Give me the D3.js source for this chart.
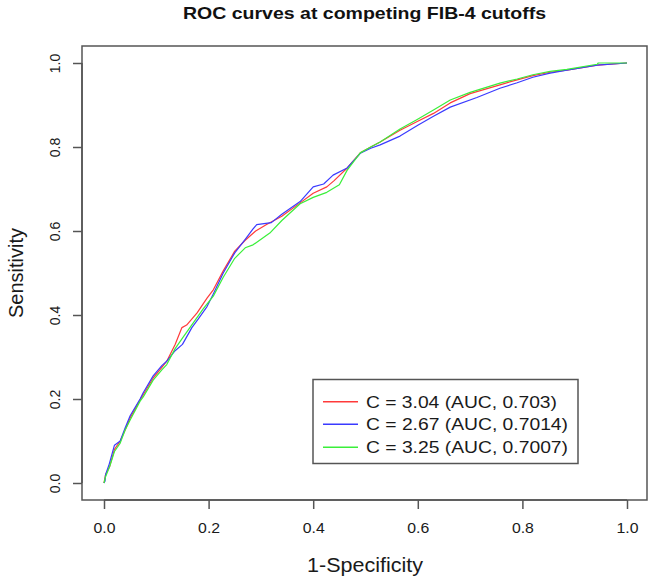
<!DOCTYPE html>
<html><head><meta charset="utf-8">
<script src="https://cdn.jsdelivr.net/npm/d3@7"></script>
<style>body{margin:0;background:#fff;} svg{display:block;font-family:"Liberation Sans",Arial,sans-serif;}</style>
</head><body>
<svg id="c" width="653" height="578"></svg>
<script>
const title = "ROC curves at competing FIB-4 cutoffs";
const xLabel = "1-Specificity";
const yLabel = "Sensitivity";
const ticks = [0, 0.2, 0.4, 0.6, 0.8, 1.0];
const seriesNames = ["C = 3.04 (AUC, 0.703)", "C = 2.67 (AUC, 0.7014)", "C = 3.25 (AUC, 0.7007)"];
const seriesColors = ["#ff3a3a", "#3a3aff", "#3aef3a"];

const redFpr = [0,0.003,0.011,0.02,0.031,0.04,0.05,0.069,0.075,0.094,0.111,0.12,0.136,0.149,0.158,0.178,0.197,0.209,0.228,0.25,0.27,0.29,0.31,0.34,0.375,0.40,0.426,0.44,0.465,0.49,0.51,0.528,0.566,0.598,0.63,0.662,0.70,0.757,0.79,0.82,0.853,0.885,0.943,1];
const redTpr = [0,0.02,0.04,0.08,0.1,0.125,0.155,0.198,0.21,0.25,0.276,0.29,0.33,0.37,0.376,0.405,0.44,0.46,0.505,0.552,0.578,0.6,0.615,0.635,0.667,0.69,0.705,0.72,0.75,0.786,0.8,0.812,0.84,0.86,0.88,0.905,0.927,0.948,0.96,0.97,0.978,0.983,0.995,1];

const blueFpr = [0,0.002,0.003,0.01,0.02,0.031,0.04,0.05,0.069,0.075,0.094,0.111,0.12,0.136,0.15,0.168,0.18,0.197,0.209,0.228,0.25,0.27,0.285,0.292,0.32,0.34,0.375,0.40,0.42,0.438,0.465,0.49,0.51,0.528,0.566,0.6,0.63,0.662,0.713,0.757,0.79,0.82,0.853,0.885,0.943,1];
const blueTpr = [0,0.005,0.02,0.045,0.09,0.1,0.13,0.16,0.2,0.215,0.255,0.28,0.29,0.315,0.33,0.37,0.39,0.42,0.45,0.5,0.548,0.58,0.605,0.615,0.62,0.64,0.67,0.705,0.712,0.733,0.75,0.785,0.797,0.805,0.826,0.852,0.873,0.895,0.918,0.94,0.953,0.966,0.976,0.983,0.995,1];

const greenFpr = [0,0.003,0.011,0.02,0.031,0.04,0.05,0.069,0.075,0.094,0.111,0.12,0.136,0.15,0.17,0.19,0.209,0.228,0.25,0.27,0.285,0.317,0.34,0.375,0.40,0.426,0.45,0.465,0.49,0.51,0.528,0.566,0.598,0.63,0.662,0.70,0.757,0.79,0.82,0.853,0.885,0.943,0.945,1];
const greenTpr = [0,0.015,0.04,0.075,0.095,0.125,0.15,0.195,0.205,0.245,0.27,0.282,0.32,0.345,0.38,0.415,0.445,0.49,0.535,0.56,0.567,0.595,0.625,0.665,0.68,0.692,0.71,0.745,0.786,0.8,0.812,0.843,0.865,0.888,0.912,0.93,0.952,0.962,0.972,0.98,0.985,0.997,1,1];

const series = [
  {name: seriesNames[0], color: seriesColors[0], fpr: redFpr, tpr: redTpr},
  {name: seriesNames[1], color: seriesColors[1], fpr: blueFpr, tpr: blueTpr},
  {name: seriesNames[2], color: seriesColors[2], fpr: greenFpr, tpr: greenTpr}
];

const svg = d3.select("#c");
const x = d3.scaleLinear().domain([0,1]).range([104,627]);
const y = d3.scaleLinear().domain([0,1]).range([483,63]);
const box = {l:82, r:647, t:46, b:500};
const axisCol = "#555";
const textCol = "#1a1a1a";

// title
svg.append("text").attr("x",364.5).attr("y",18.5).attr("text-anchor","middle")
  .attr("font-size",16.5).attr("font-weight","bold").attr("fill","#111")
  .attr("textLength",363).attr("lengthAdjust","spacingAndGlyphs").text(title);

// curves
const line = d3.line().x(d=>x(d[0])).y(d=>y(d[1]));
const g = svg.append("g");
series.forEach(s=>{
  const pts = s.fpr.map((f,i)=>[f,s.tpr[i]]);
  g.append("path").attr("d",line(pts)).attr("fill","none")
    .attr("stroke",s.color).attr("stroke-width",1.2).attr("stroke-linejoin","round");
});

// box
svg.append("rect").attr("x",box.l).attr("y",box.t).attr("width",box.r-box.l).attr("height",box.b-box.t)
  .attr("fill","none").attr("stroke",axisCol).attr("stroke-width",1.5);

// x axis
const xa = svg.append("g").attr("transform",`translate(0,${box.b})`)
  .call(d3.axisBottom(x).tickValues(ticks).tickFormat(d3.format(".1f")).tickSize(9).tickSizeOuter(0));
xa.select(".domain").attr("stroke",axisCol).attr("stroke-width",1.5).attr("d",`M${x(0)},0H${x(1)}`);
xa.selectAll(".tick line").attr("stroke",axisCol).attr("stroke-width",1.5);
xa.selectAll(".tick text").attr("y",0).attr("dy",0).attr("transform","translate(0,33)")
  .attr("font-size",14).attr("fill",textCol).attr("font-family","'Liberation Sans',Arial,sans-serif")
  .attr("textLength",22).attr("lengthAdjust","spacingAndGlyphs");

// y axis
const ya = svg.append("g").attr("transform",`translate(${box.l},0)`)
  .call(d3.axisLeft(y).tickValues(ticks).tickFormat(d3.format(".1f")).tickSize(9).tickSizeOuter(0));
ya.select(".domain").attr("stroke",axisCol).attr("stroke-width",1.5).attr("d",`M0,${y(0)}V${y(1)}`);
ya.selectAll(".tick line").attr("stroke",axisCol).attr("stroke-width",1.5);
ya.selectAll(".tick text").attr("x",0).attr("dy",0).attr("text-anchor","middle")
  .attr("transform","translate(-22,0) rotate(-90)")
  .attr("font-size",14).attr("fill",textCol).attr("font-family","'Liberation Sans',Arial,sans-serif");

// axis titles
svg.append("text").attr("x",365).attr("y",572).attr("text-anchor","middle")
  .attr("font-size",20).attr("fill",textCol).attr("textLength",116).attr("lengthAdjust","spacingAndGlyphs").text(xLabel);
svg.append("text").attr("transform","translate(23,273) rotate(-90)").attr("text-anchor","middle")
  .attr("font-size",20).attr("fill",textCol).text(yLabel);

// legend
const lg = svg.append("g");
lg.append("rect").attr("x",313).attr("y",379.5).attr("width",265).attr("height",84)
  .attr("fill","#fff").attr("stroke",axisCol).attr("stroke-width",1.5);
const rowY = [401.7, 424.3, 447.3];
const textW = [191, 202, 202];
series.forEach((s,i)=>{
  lg.append("line").attr("x1",323).attr("x2",358).attr("y1",rowY[i]).attr("y2",rowY[i])
    .attr("stroke",s.color).attr("stroke-width",1.4);
  lg.append("text").attr("x",366).attr("y",rowY[i]+6).attr("font-size",16).attr("fill",textCol)
    .attr("textLength",textW[i]).attr("lengthAdjust","spacingAndGlyphs").text(s.name);
});
</script>
</body></html>
